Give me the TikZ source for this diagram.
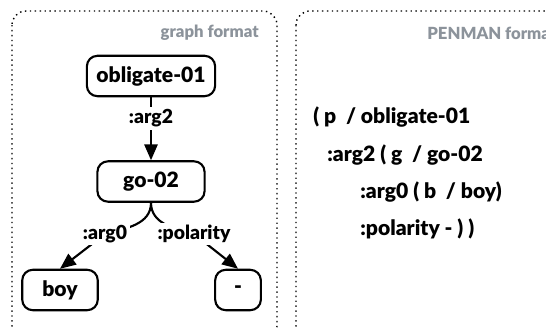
\documentclass[tikz,border=0pt]{standalone}
\usepackage{fontspec}
\setmainfont{Lato}[BoldFont={Lato Black}]
\usetikzlibrary{arrows.meta}
\definecolor{titlegray}{HTML}{8C939B}

\tikzset{
  amrnode/.style = {draw, line width=1.2pt, rounded corners=6pt, minimum height=23pt,
    inner sep=2pt, font=\bfseries\fontsize{12}{14}\selectfont},
  amredge/.style = {line width=1.2pt, -{Triangle[length=9pt,width=7.5pt]}},
  rolelbl/.style = {fill=white, inner sep=1.5pt, font=\bfseries\fontsize{11}{13}\selectfont},
  penline/.style = {anchor=west, inner sep=0pt, font=\bfseries\fontsize{12}{14}\selectfont},
  paneltitle/.style = {inner sep=0pt, text=titlegray, font=\bfseries\fontsize{9.5}{11}\selectfont},
  panel/.style = {draw, dotted, line width=0.8pt, rounded corners=8pt}
}

\begin{document}
\begin{tikzpicture}[x=0.02cm, y=-0.02cm]
  \useasboundingbox (0,0) rectangle (546,327);
  \clip (0,0) rectangle (546,327);

  % panels
  \draw[panel] (12,11) rectangle (277,340);
  \draw[panel] (296,11) rectangle (570,340);
  \node[paneltitle, anchor=east] (gtitle) at (259,33) {graph format};
  \node[paneltitle, anchor=west] (ptitle) at (427,33) {PENMAN format};

  % graph
  \node[amrnode, minimum width=73pt] (oblig) at (151,76) {obligate-01};
  \node[amrnode, minimum width=61pt] (go) at (151,181.5) {go-02};
  \node[amrnode, minimum width=43pt] (boy) at (60,290) {boy};
  \node[amrnode, minimum width=26pt] (minus) at (238,290) {-};

  \draw[amredge] (oblig) -- (go) node[rolelbl, pos=0.33] {:arg2};
  \draw[amredge] (go.south) to[out=-90, in=15] (105,234) node[rolelbl] (arg0) {:arg0} -- (boy.north);
  \draw[amredge] (go.south) to[out=-90, in=165] (194,234) node[rolelbl] (pol) {:polarity} -- (minus.north);

  % penman text
  \node[penline] (pen1) at (313,117) {( p \ / obligate-01};
  \node[penline] (pen2) at (327,155) {:arg2 ( g \ / go-02};
  \node[penline] (pen3) at (360,192) {:arg0 ( b \ / boy)};
  \node[penline] (pen4) at (360,229) {:polarity - ) )};
\end{tikzpicture}
\end{document}
